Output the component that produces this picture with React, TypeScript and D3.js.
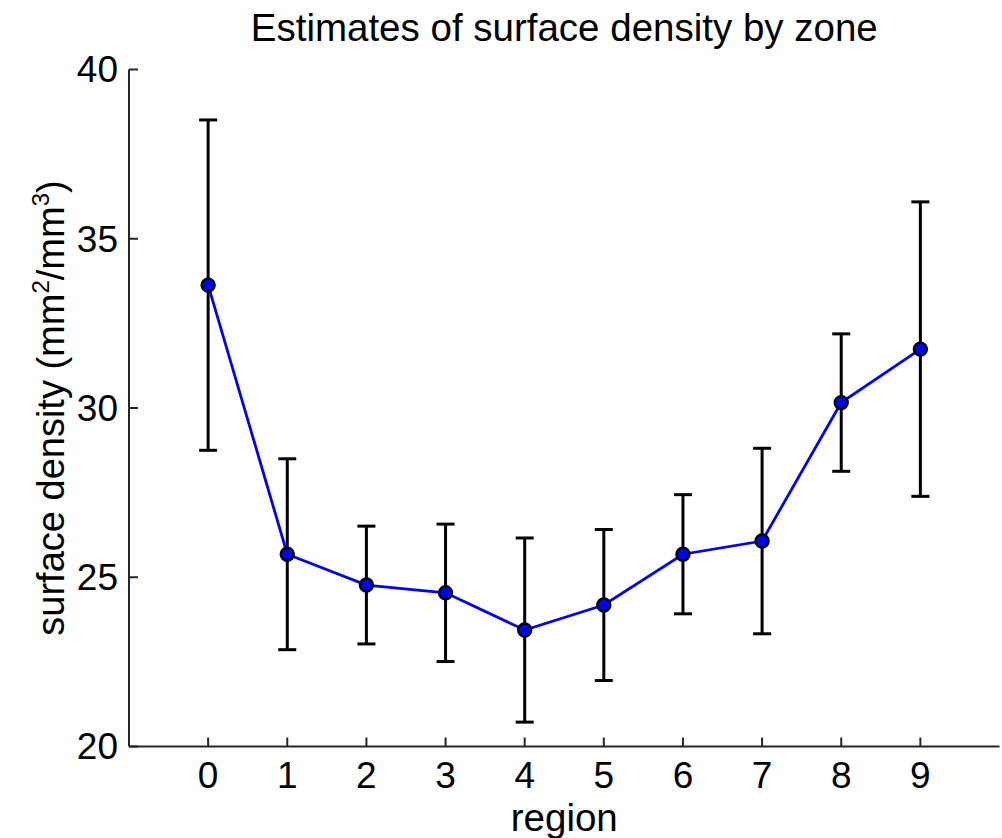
import React from "react";
import * as d3 from "d3";

const regions = [0, 1, 2, 3, 4, 5, 6, 7, 8, 9];
const means = [33.63, 25.68, 24.77, 24.54, 23.44, 24.18, 25.68, 26.07, 30.16, 31.74];
const errors = [4.88, 2.82, 1.74, 2.03, 2.72, 2.23, 1.76, 2.74, 2.03, 4.35];
const yTicks = [20, 25, 30, 35, 40];
const xTicks = [0, 1, 2, 3, 4, 5, 6, 7, 8, 9];

const W = 1002;
const H = 838;
const FONT = "'Liberation Sans', Arial, Helvetica, sans-serif";

export default function App() {
  const x = d3.scaleLinear().domain([-1, 10]).range([129, 999.5]);
  const y = d3.scaleLinear().domain([20, 40]).range([746.5, 69.5]);
  const data = regions.map((r, i) => ({ r, m: means[i], e: errors[i] }));
  const line = d3
    .line<{ r: number; m: number }>()
    .x((d) => x(d.r))
    .y((d) => y(d.m));
  const axisColor = "#262626";
  const tickLen = 9;
  const capHalf = 9;
  const x0 = x(-1);
  const x1 = x(10);
  const y0 = y(20);
  const yTop = y(40);

  return (
    <div style={{ position: "fixed", left: 0, top: 0 }}>
      <svg width={W} height={H} style={{ display: "block", background: "#fff" }}>
        <rect width={W} height={H} fill="#fff" />
        {/* axes */}
        <line x1={x0} x2={x0} y1={yTop} y2={y0} stroke={axisColor} strokeWidth={2} />
        <line x1={x0} x2={x1} y1={y0} y2={y0} stroke={axisColor} strokeWidth={2} />
        {yTicks.map((t) => (
          <g key={"y" + t}>
            <line x1={x0} x2={x0 + tickLen} y1={y(t)} y2={y(t)} stroke={axisColor} strokeWidth={2} />
            <text
              x={x0 - 11}
              y={y(t)}
              dy="0.35em"
              textAnchor="end"
              fontFamily={FONT}
              fontSize={37}
              fill="#000"
            >
              {t}
            </text>
          </g>
        ))}
        {xTicks.map((t) => (
          <g key={"x" + t}>
            <line x1={x(t)} x2={x(t)} y1={y0} y2={y0 - tickLen} stroke={axisColor} strokeWidth={2} />
            <text
              x={x(t)}
              y={788}
              textAnchor="middle"
              fontFamily={FONT}
              fontSize={37}
              fill="#000"
            >
              {t}
            </text>
          </g>
        ))}
        {/* error bars */}
        {data.map((d) => (
          <g key={"e" + d.r} stroke="#000" strokeWidth={3}>
            <line x1={x(d.r)} x2={x(d.r)} y1={y(d.m + d.e)} y2={y(d.m - d.e)} />
            <line x1={x(d.r) - capHalf} x2={x(d.r) + capHalf} y1={y(d.m + d.e)} y2={y(d.m + d.e)} />
            <line x1={x(d.r) - capHalf} x2={x(d.r) + capHalf} y1={y(d.m - d.e)} y2={y(d.m - d.e)} />
          </g>
        ))}
        {/* line */}
        <path d={line(data) || ""} fill="none" stroke="#0000ff" strokeWidth={2.8} />
        {/* markers */}
        {data.map((d) => (
          <circle key={"c" + d.r} cx={x(d.r)} cy={y(d.m)} r={6.5} fill="#0000ff" stroke="#000" strokeWidth={2.4} />
        ))}
        {/* title */}
        <text
          x={(x0 + x1) / 2}
          y={41}
          textAnchor="middle"
          fontFamily={FONT}
          fontSize={38.5}
          fill="#000"
        >
          Estimates of surface density by zone
        </text>
        {/* x label */}
        <text
          x={(x0 + x1) / 2}
          y={831}
          textAnchor="middle"
          fontFamily={FONT}
          fontSize={38.5}
          fill="#000"
        >
          region
        </text>
        {/* y label */}
        <text
          transform={`translate(64, ${(y0 + yTop) / 2}) rotate(-90)`}
          textAnchor="middle"
          fontFamily={FONT}
          fontSize={38}
          fill="#000"
        >
          surface density (mm
          <tspan fontSize={24} dy={-15}>2</tspan>
          <tspan dy={15}>/mm</tspan>
          <tspan fontSize={24} dy={-15}>3</tspan>
          <tspan dy={15}>)</tspan>
        </text>
      </svg>
    </div>
  );
}
